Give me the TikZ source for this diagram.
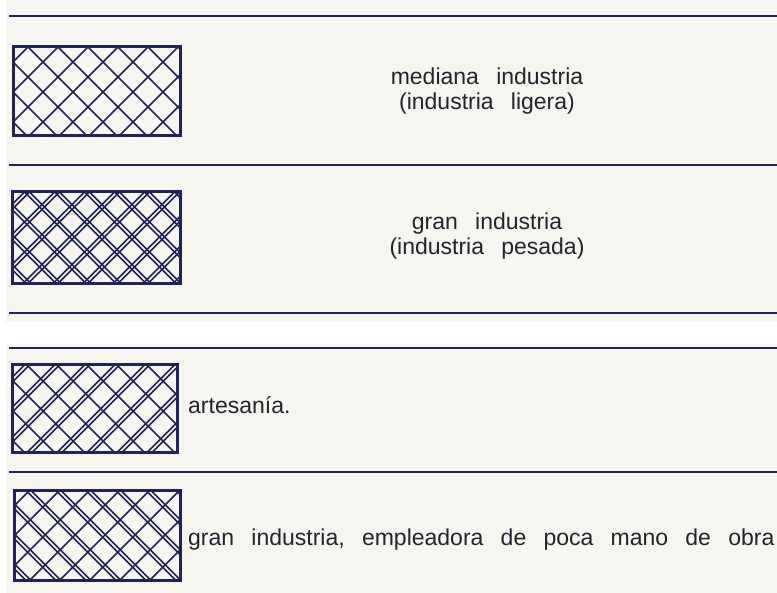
\documentclass[tikz,border=0pt]{standalone}
\usepackage{fontspec}
\setmainfont{Liberation Sans}[WordSpace=2.7]
\definecolor{ink}{HTML}{22225A}
\definecolor{paper}{HTML}{F6F5F0}
\definecolor{print}{HTML}{24242E}

\tikzset{
  divider/.style={ink, line width=2.4pt},
  swatch/.style={anchor=north west, inner sep=0pt, outer sep=0pt},
  swatchframe/.style={ink, line width=3pt},
  hatch/.style={ink, line width=1.5pt},
  legend/.style={text=print, inner sep=0pt, align=center, font=\fontsize{23}{25}\selectfont}
}

% cross hatching inside a swatch: #2 and #3 are the offsets of the two line families
\newcommand{\crosshatch}[3]{%
  \begin{scope}
    \clip (#1.north west) rectangle (#1.south east);
    \begin{scope}[shift={(#1.north west)}]
      \foreach \d in {#2}
        \foreach \t in {-105,-75,...,165}
          \draw[hatch] ({\t+\d},0) -- ++(130,130);
      \foreach \d in {#3}
        \foreach \t in {15,45,...,285}
          \draw[hatch] ({\t+\d},0) -- ++(-130,130);
    \end{scope}
  \end{scope}
  \draw[swatchframe] (#1.north west) rectangle (#1.south east);
}

\begin{document}
\begin{tikzpicture}[x=1pt, y=-1pt]
  % Paper
  \fill[white] (0,0) rectangle (777,593);
  \fill[paper] (6,0) rectangle (777,322);
  \fill[paper] (6,344) rectangle (777,593);
  \useasboundingbox (0,0) rectangle (777,593);

  % Dividing rules
  \draw[divider] (9,16) -- (777,16);
  \draw[divider] (9,165) -- (777,165);
  \draw[divider] (9,313) -- (777,313);
  \draw[divider] (9,348) -- (777,348);
  \draw[divider] (9,472) -- (777,472);

  % Swatches
  \node[swatch, minimum width=167pt, minimum height=89pt] (b1) at (13,47) {};
  \node[swatch, minimum width=168pt, minimum height=92pt] (b2) at (12,192) {};
  \node[swatch, minimum width=165pt, minimum height=88pt] (b3) at (12,365) {};
  \node[swatch, minimum width=166pt, minimum height=89pt] (b4) at (14,491) {};

  \crosshatch{b1}{0}{0}
  \crosshatch{b2}{-2.5,2.5}{-2.5,2.5}
  \crosshatch{b3}{0}{-2.5,2.5}
  \crosshatch{b4}{-2.5,2.5}{0}

  % Texts
  \node[legend] (t1) at (487,91) {mediana industria\\(industria ligera)};
  \node[legend] (t2) at (487,236.5) {gran industria\\(industria pesada)};
  \node[legend, anchor=base west] (t3) at (188,414) {artesanía.};
  \node[legend, anchor=base west] (t4) at (188,545) {gran industria, empleadora de poca mano de obra};

\end{tikzpicture}
\end{document}
